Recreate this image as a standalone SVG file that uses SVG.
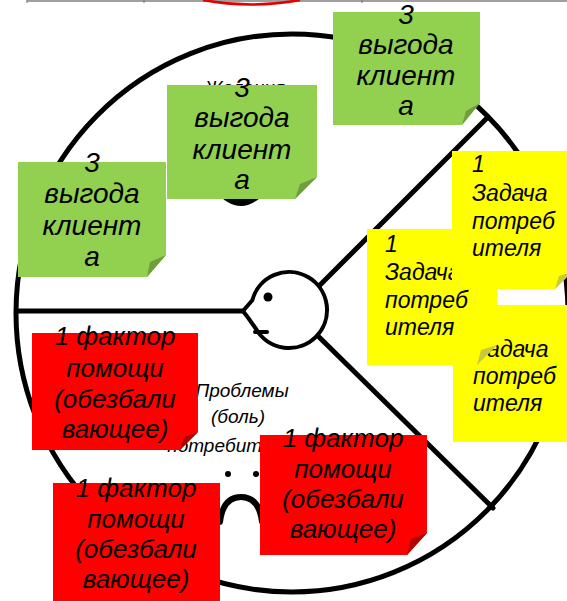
<svg xmlns="http://www.w3.org/2000/svg" width="567" height="601" viewBox="0 0 567 601">
  <style>
    .ln { fill: none; stroke: #000; stroke-linecap: round; stroke-linejoin: round; }
    .t { font-family: "Liberation Sans", Arial, sans-serif; font-style: italic; fill: #000; }
    .g { fill: #92D050; }
    .gf { fill: #6f9e3a; }
    .y { fill: #FFFF00; }
    .yf { fill: #c9c93a; }
    .r { fill: #FF0000; }
    .rf { fill: #b00000; }
    .big { font-size: 28px; text-anchor: middle; }
    .mid { font-size: 23px; }
    .red { font-size: 26px; text-anchor: middle; }
    .lbl { font-size: 19px; text-anchor: middle; }
  </style>
  <rect width="567" height="601" fill="#fff"/>

  <!-- table edge at the top -->
  <g id="table-edge">
    <line x1="27" y1="1" x2="567" y2="1" stroke="#7f7f7f" stroke-width="1.5"/>
    <line x1="27" y1="0" x2="27" y2="3" stroke="#7f7f7f" stroke-width="1.2"/>
    <line x1="144" y1="0" x2="144" y2="3" stroke="#7f7f7f" stroke-width="1.2"/>
    <line x1="362" y1="0" x2="362" y2="3" stroke="#7f7f7f" stroke-width="1.2"/>
    <path d="M203,0 Q251,9 300,0" fill="none" stroke="#e00000" stroke-width="2.5"/>
  </g>

  <!-- canvas: circle split into three sectors -->
  <g id="connectors">
    <ellipse class="ln" cx="292" cy="313" rx="276" ry="279" stroke-width="5"/>
    <line class="ln" x1="17" y1="311" x2="243" y2="311" stroke-width="5"/>
    <line class="ln" x1="320" y1="285" x2="488" y2="117" stroke-width="5"/>
    <line class="ln" x1="319" y1="337" x2="493" y2="508" stroke-width="5"/>
  </g>

  <!-- customer head in the centre -->
  <g id="customer">
    <path class="ln" stroke-width="4" d="M252.3,300.2 A38,38 0 1 1 256.1,329 L249,319 L243,311 Z"/>
    <circle cx="268" cy="297" r="4.5" fill="#000"/>
    <line class="ln" x1="255" y1="332" x2="267" y2="332" stroke-width="4"/>
  </g>

  <!-- sector captions -->
  <g id="gains-sector">
    <text class="t lbl" x="245" y="94" font-size="20">Желания</text>
    <path d="M214,190 Q241,222 268,190 Q241,206 214,190 Z" fill="#000"/>
  </g>
  <g id="pains-sector">
    <text class="t lbl" x="242" y="397">Проблемы</text>
    <text class="t lbl" x="238" y="423">(боль)</text>
    <text class="t lbl" x="230" y="452">потребителя</text>
    <circle cx="228" cy="474" r="3" fill="#000"/>
    <circle cx="256" cy="474" r="3" fill="#000"/>
    <path class="ln" stroke-width="6" d="M220,522 Q223,497 241,497 Q259,497 262,522"/>
  </g>

  <!-- gain notes -->
  <g id="gain-note-1">
    <path class="g" d="M333,12 H480 V103 L462,125 H333 Z"/>
    <path class="gf" d="M462,125 L480,103 L466,111 Z"/>
    <text class="t big" x="406" y="24">3</text>
    <text class="t big" x="406" y="54">выгода</text>
    <text class="t big" x="406" y="85">клиент</text>
    <text class="t big" x="406" y="115">а</text>
  </g>
  <g id="gain-note-2">
    <path class="g" d="M167,85 H317 V177 L295,199 H167 Z"/>
    <path class="gf" d="M295,199 L317,177 L300,184 Z"/>
    <text class="t big" x="242" y="97">3</text>
    <text class="t big" x="242" y="127">выгода</text>
    <text class="t big" x="242" y="159">клиент</text>
    <text class="t big" x="242" y="189">а</text>
  </g>
  <g id="gain-note-3">
    <path class="g" d="M18,162 H166 V255 L147,277 H18 Z"/>
    <path class="gf" d="M147,277 L166,255 L150,262 Z"/>
    <text class="t big" x="92" y="172">3</text>
    <text class="t big" x="92" y="203">выгода</text>
    <text class="t big" x="92" y="235">клиент</text>
    <text class="t big" x="92" y="266">а</text>
  </g>

  <!-- job notes -->
  <g id="job-note-3">
    <path class="y" d="M453,305 H572 V442 H453 Z"/>
    <text class="t mid" x="473" y="357">Задача</text>
    <text class="t mid" x="473" y="384">потреб</text>
    <text class="t mid" x="473" y="411">ителя</text>
  </g>
  <g id="job-note-2">
    <path class="y" d="M367,229 H497 V345 L477,365 H367 Z"/>
    <path class="yf" d="M477,365 L497,345 L481,350 Z"/>
    <text class="t mid" x="385" y="252">1</text>
    <text class="t mid" x="385" y="280">Задача</text>
    <text class="t mid" x="385" y="308">потреб</text>
    <text class="t mid" x="385" y="335">ителя</text>
  </g>
  <g id="job-note-1">
    <path class="y" d="M452,151 H572 V272 L555,289 H452 Z"/>
    <path class="yf" d="M555,289 L572,272 L559,276 Z"/>
    <text class="t mid" x="472" y="172">1</text>
    <text class="t mid" x="472" y="201">Задача</text>
    <text class="t mid" x="472" y="229">потреб</text>
    <text class="t mid" x="472" y="256">ителя</text>
  </g>

  <!-- pain reliever notes -->
  <g id="reliever-note-1">
    <path class="r" d="M32,333 H198 V432 L180,450 H32 Z"/>
    <path class="rf" d="M180,450 L198,432 L184,437 Z"/>
    <text class="t red" x="115" y="345">1 фактор</text>
    <text class="t red" x="115" y="377">помощи</text>
    <text class="t red" x="115" y="408">(обезбали</text>
    <text class="t red" x="115" y="438">вающее)</text>
  </g>
  <g id="reliever-note-2">
    <path class="r" d="M260,435 H427 V533 L407,555 H260 Z"/>
    <path class="rf" d="M407,555 L427,533 L411,539 Z"/>
    <text class="t red" x="343" y="447">1 фактор</text>
    <text class="t red" x="343" y="478">помощи</text>
    <text class="t red" x="343" y="508">(обезбали</text>
    <text class="t red" x="343" y="538">вающее)</text>
  </g>
  <g id="reliever-note-3">
    <path class="r" d="M53,483 H220 V601 H53 Z"/>
    <text class="t red" x="136" y="497">1 фактор</text>
    <text class="t red" x="136" y="528">помощи</text>
    <text class="t red" x="136" y="558">(обезбали</text>
    <text class="t red" x="136" y="588">вающее)</text>
  </g>
</svg>
